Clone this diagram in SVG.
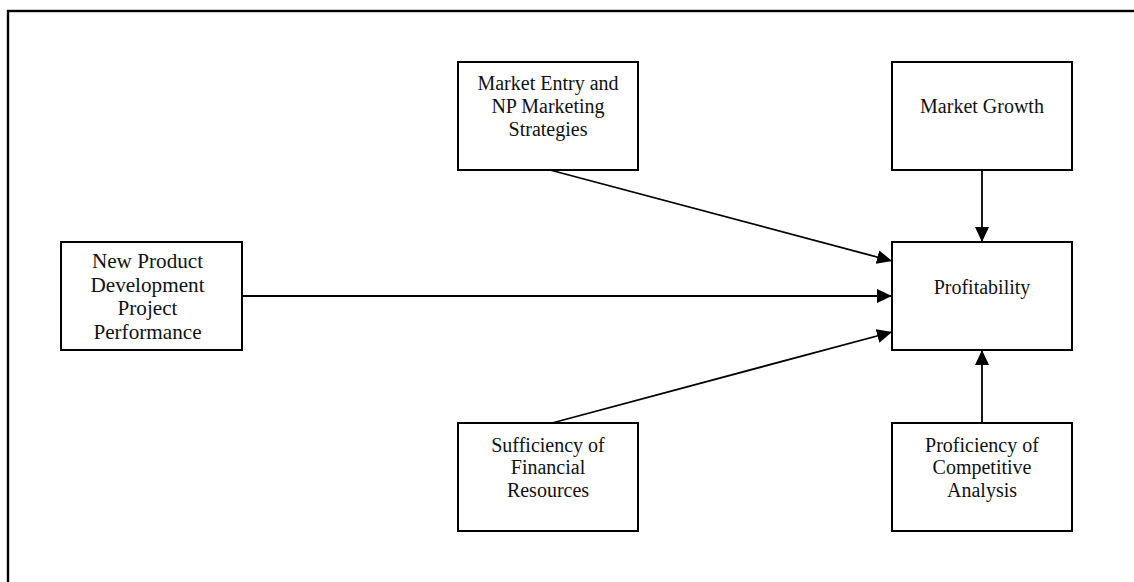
<svg xmlns="http://www.w3.org/2000/svg" width="1134" height="582" viewBox="0 0 1134 582">
  <style>
    .frame { fill: none; stroke: #000; stroke-width: 2.4; }
    .box { fill: #fff; stroke: #000; stroke-width: 2; }
    .label { font-family: "Liberation Serif", "Times New Roman", serif; font-size: 20px; fill: #111; text-anchor: middle; }
    .label.large { font-size: 21.2px; }
    .edge { fill: none; stroke: #000; stroke-width: 1.8; marker-end: url(#arrow); }
  </style>
  <defs>
    <marker id="arrow" markerUnits="userSpaceOnUse" markerWidth="16" markerHeight="14" refX="15" refY="7" orient="auto">
      <path d="M0,0 L15,7 L0,14 Z" fill="#000"/>
    </marker>
  </defs>

  <rect width="1134" height="582" fill="#fff"/>
  <!-- outer frame, runs off the right and bottom edges -->
  <rect class="frame" x="8" y="11" width="1200" height="700"/>

  <g id="connectors">
    <line class="edge" x1="550" y1="170" x2="892" y2="261"/>
    <line class="edge" x1="982" y1="170" x2="982" y2="242"/>
    <line class="edge" x1="242" y1="296" x2="892" y2="296"/>
    <line class="edge" x1="552" y1="423" x2="892" y2="332"/>
    <line class="edge" x1="982" y1="423" x2="982" y2="350"/>
  </g>

  <g id="market-entry">
    <rect class="box" x="458" y="62" width="180" height="108"/>
    <text class="label" x="548" y="90">Market Entry and</text>
    <text class="label" x="548" y="113">NP Marketing</text>
    <text class="label" x="548" y="136">Strategies</text>
  </g>

  <g id="market-growth">
    <rect class="box" x="892" y="62" width="180" height="108"/>
    <text class="label" x="982" y="113">Market Growth</text>
  </g>

  <g id="npd-performance">
    <rect class="box" x="61" y="242" width="181" height="108"/>
    <text class="label large" x="147.5" y="268">New Product</text>
    <text class="label large" x="147.5" y="291.5">Development</text>
    <text class="label large" x="147.5" y="315">Project</text>
    <text class="label large" x="147.5" y="338.5">Performance</text>
  </g>

  <g id="profitability">
    <rect class="box" x="892" y="242" width="180" height="108"/>
    <text class="label" x="982" y="294">Profitability</text>
  </g>

  <g id="financial-resources">
    <rect class="box" x="458" y="423" width="180" height="108"/>
    <text class="label" x="548" y="452">Sufficiency of</text>
    <text class="label" x="548" y="474">Financial</text>
    <text class="label" x="548" y="497">Resources</text>
  </g>

  <g id="competitive-analysis">
    <rect class="box" x="892" y="423" width="180" height="108"/>
    <text class="label" x="982" y="452">Proficiency of</text>
    <text class="label" x="982" y="474">Competitive</text>
    <text class="label" x="982" y="497">Analysis</text>
  </g>
</svg>
